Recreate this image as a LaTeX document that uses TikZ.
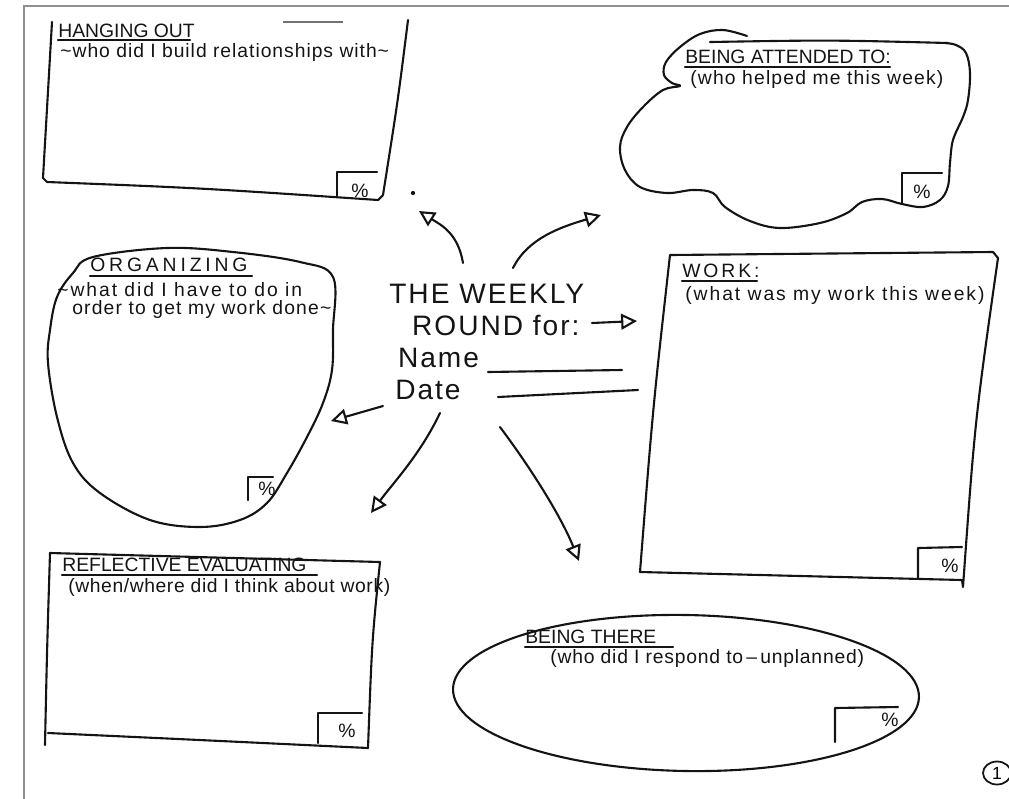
\documentclass[tikz,border=0pt]{standalone}
\usepackage{fontspec}
\setmainfont{Liberation Sans}
\usepackage{tikz}
\usetikzlibrary{arrows.meta,shapes.geometric}
\definecolor{ink}{HTML}{141414}
\definecolor{pagegrey}{HTML}{8E8E8E}

\begin{document}
\begin{tikzpicture}[x=0.02cm, y=-0.02cm,
    hand/.style={draw=ink, line width=1.2pt, line join=round, line cap=round},
    ttl/.style={anchor=base west, inner sep=0pt, font=\fontsize{11}{12}\selectfont, text=ink},
    sub/.style={anchor=base west, inner sep=0pt, font=\fontsize{11}{12}\selectfont\addfontfeature{LetterSpace=#1}, text=ink},
    sub/.default=6,
    big/.style={anchor=north west, inner sep=0pt, align=left, font=\fontsize{16}{18.2}\selectfont\addfontfeature{LetterSpace=7}, text=ink},
    pct/.style={inner sep=0pt, font=\fontsize{11}{12}\selectfont, text=ink},
    arr/.style={hand, -{Triangle[open, length=9pt, width=9pt, line width=1.2pt]}},
]
    \useasboundingbox (0,0) rectangle (1009,799);
    \draw[pagegrey, line width=1.1pt] (24,799) -- (24,6) -- (1009,6);

    \draw[hand] (52,22) .. controls (48,100) .. (43,178) -- (47,182) .. controls (200,188) .. (378,200) -- (383,195) .. controls (398,100) .. (408,20);
    \draw[ink!60, line width=0.8pt] (283,22) -- (343,22);
    \node[ttl] (hangttl) at (58,37) {HANGING OUT};
    \draw[hand] (58,40) -- (190,40);
    \node[sub=5] (hangsub) at (60,57) {\textasciitilde who did I build relationships with\textasciitilde};
    \draw[hand] (337,197) -- (337,172) -- (377,172);
    \node[pct] (hangpct) at (360,191) {\%};
    \fill[ink] (413,193) circle (1.2pt);

    \draw[hand] plot[smooth, tension=0.6] coordinates {(747,36) (723,30) (700,34) (680,47) (666,62) (664,75) (672,83) (680,86) (663,90) (643,107) (627,127) (620,147) (625,170) (640,187) (667,193) (693,190) (713,193) (725,207) (750,221) (780,228) (820,223) (847,213) (862,202) (882,199) (902,204) (923,207) (940,200) (948,186) (950,163) (953,140) (963,117) (968,100) (970,73) (966,53) (956,45) (945,43)};
    \draw[hand] (710,42) .. controls (830,40) .. (948,43);
    \node[ttl] (attttl) at (685,63) {BEING ATTENDED TO:};
    \draw[hand] (685,67) -- (890,67);
    \node[sub] (attsub) at (690,84) {(who helped me this week)};
    \draw[hand] (902,203) -- (902,173) -- (942,173);
    \node[pct] (attpct) at (922,192) {\%};

    \draw[hand] plot[smooth cycle, tension=0.6] coordinates {(93,257) (167,248) (233,252) (300,262) (333,277) (333,330) (332,370) (323,403) (307,437) (287,473) (267,503) (240,520) (200,527) (150,520) (100,493) (73,463) (57,417) (48,363) (50,330) (57,297) (73,273)};
    \node[ttl, font=\fontsize{11}{12}\selectfont\addfontfeature{LetterSpace=20}] (orgttl) at (90,271) {ORGANIZING};
    \draw[hand] (90,276) -- (252,276);
    \node[sub=10] (orgsub) at (57,296) {\textasciitilde what did I have to do in};
    \node[sub] (orgsubb) at (72,314) {order to get my work done\textasciitilde};
    \draw[hand] (248,500) -- (248,477) -- (273,477);
    \node[pct] (orgpct) at (267,489) {\%};

    \draw[hand] (670,255) -- (993,252) -- (998,258) .. controls (975,420) .. (963,587) -- (962,580) .. controls (800,576) .. (640,572) .. controls (653,407) .. (670,255);
    \node[ttl, font=\fontsize{11}{12}\selectfont\addfontfeature{LetterSpace=15}] (workttl) at (682,277) {WORK:};
    \draw[hand] (682,281) -- (757,281);
    \node[sub=10] (worksub) at (685,300) {(what was my work this week)};
    \draw[hand] (918,578) -- (918,548) -- (962,547);
    \node[pct] (workpct) at (950,566) {\%};

    \draw[hand] (50,553) -- (380,562) .. controls (372,640) .. (368,748) .. controls (200,740) .. (48,733);
    \draw[hand] (50,553) .. controls (47,650) .. (45,745);
    \node[ttl] (refttl) at (62,571) {REFLECTIVE EVALUATING};
    \draw[hand] (62,575) -- (317,575);
    \node[sub=3] (refsub) at (68,592) {(when/where did I think about work)};
    \draw[hand] (318,743) -- (318,713) -- (362,713);
    \node[pct] (refpct) at (347,731) {\%};

    \draw[hand, rotate around={-1:(686,693)}] (686,693) ellipse [x radius=233, y radius=78];
    \node[ttl] (therettl) at (525,643) {BEING THERE};
    \draw[hand] (525,647) -- (673,647);
    \node[sub=4] (theresub) at (550,663) {(who did I respond to\,--\,unplanned)};
    \draw[hand] (835,742) -- (835,708) -- (898,707);
    \node[pct] (therepct) at (890,720) {\%};

    \node[big] (weekly) at (389,284) {THE WEEKLY\\\hspace*{13pt}ROUND for:\\\hspace*{5pt}Name\\\hspace*{3.4pt}Date};
    \draw[hand] (488,372) -- (622,370);
    \draw[hand] (498,397) -- (638,390);

    \coordinate (hangs) at (463,263);
    \coordinate (hange) at (419,211);
    \coordinate (atts) at (513,268);
    \coordinate (atte) at (601,215);
    \coordinate (works) at (592,323);
    \coordinate (worke) at (637,321);
    \coordinate (orgs) at (383,406);
    \coordinate (orge) at (331,421);
    \coordinate (refs) at (440,413);
    \coordinate (refe) at (371,513);
    \coordinate (theres) at (500,427);
    \coordinate (theree) at (579,561);

    \draw[arr] (hangs) .. controls +(-5,-30) and +(22,14) .. (hange);
    \draw[arr] (atts) .. controls +(15,-30) and +(-40,12) .. (atte);
    \draw[arr] (works) -- (worke);
    \draw[arr] (orgs) -- (orge);
    \draw[arr] (refs) .. controls +(-20,42) and +(22,-30) .. (refe);
    \draw[arr] (theres) .. controls +(30,40) and +(-18,-45) .. (theree);

    \node[draw=ink, ellipse, line width=1pt, inner sep=0pt, minimum width=0.56cm, minimum height=0.46cm, font=\fontsize{10}{11}\selectfont] (pagenum) at (997,773) {1};
\end{tikzpicture}
\end{document}
